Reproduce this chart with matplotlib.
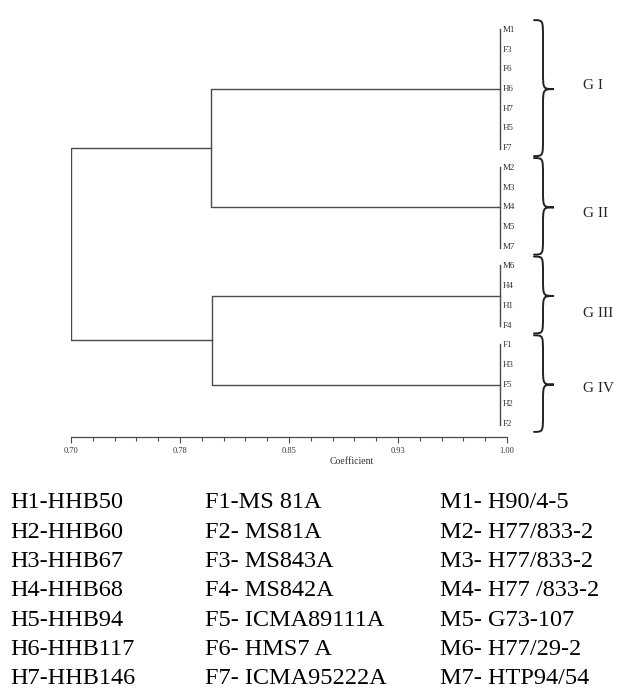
import matplotlib

matplotlib.use("Agg")
import matplotlib.pyplot as plt
from matplotlib.path import Path
from matplotlib.patches import PathPatch
import numpy as np

# leaves top to bottom, grouped
groups = [
    ["M1", "F3", "F6", "H6", "H7", "H5", "F7"],
    ["M2", "M3", "M4", "M5", "M7"],
    ["M6", "H4", "H1", "F4"],
    ["F1", "H3", "F5", "H2", "F2"],
]
group_names = ["G I", "G II", "G III", "G IV"]
group_join = [0.995, 0.995, 0.995, 0.995]   # within-group similarity
pair_join = [0.796, 0.797]                  # GI+GII, GIII+GIV
root_join = 0.700

tick_vals = [0.70, 0.775, 0.85, 0.925, 1.00]
tick_labels = ["0.70", "0.78", "0.85", "0.93", "1.00"]

key_h = ["H1-HHB50", "H2-HHB60", "H3-HHB67", "H4-HHB68", "H5-HHB94", "H6-HHB117", "H7-HHB146"]
key_f = ["F1-MS 81A", "F2- MS81A", "F3- MS843A", "F4- MS842A", "F5- ICMA89111A",
         "F6- HMS7 A", "F7- ICMA95222A"]
key_m = ["M1- H90/4-5", "M2- H77/833-2", "M3- H77/833-2", "M4- H77 /833-2", "M5- G73-107",
         "M6- H77/29-2", "M7- HTP94/54"]

SERIF = ["Liberation Serif", "DejaVu Serif"]
LC = "#4a4a4a"

W, H = 633, 688
fig = plt.figure(figsize=(W / 100, H / 100), dpi=100)
fig.patch.set_facecolor("white")

# axes: x 0.70 at px 71, 1.00 at px 507; leaf 0 at py 30, step 19.7
ppu = (507 - 71) / 0.30
xmax = 0.70 + (W - 71) / ppu
step = 19.7
ytop, ybot = 20, 437
ax = fig.add_axes([71 / W, (H - ybot) / H, (W - 71) / W, (ybot - ytop) / H])
ax.set_xlim(0.70, xmax)
ax.set_ylim((ybot - 30) / step, (ytop - 30) / step)
for s in ["top", "right", "left"]:
    ax.spines[s].set_visible(False)
ax.spines["bottom"].set_bounds(0.70, 1.00)
ax.spines["bottom"].set_color(LC)
ax.spines["bottom"].set_linewidth(0.9)
ax.patch.set_alpha(0)
ax.set_yticks([])
ax.set_xticks(tick_vals, tick_labels, fontsize=6, family=SERIF, color="#333")
ax.set_xticks(np.arange(0.70, 1.0001, 0.015), minor=True)
ax.tick_params(axis="x", which="major", length=4.5, width=0.8, color=LC, pad=3)
ax.tick_params(axis="x", which="minor", length=3, width=0.8, color=LC)
ax.set_xlabel("Coefficient", fontsize=7, family=SERIF, color="#333", labelpad=1)


def px2x(px):
    return 0.70 + (px - 71) / ppu


lw = 1.0
mids = []
idx = 0
for gi, leaves in enumerate(groups):
    ys = np.arange(idx, idx + len(leaves))
    h = group_join[gi]
    ax.plot([h, h], [ys[0] - 0.05, ys[-1] + 0.05], color=LC, lw=lw)
    for y, name in zip(ys, leaves):
        ax.annotate(name, (h, y), xytext=(2.5, 0), textcoords="offset points",
                    fontsize=6.5, family=SERIF, color="#333", va="center", ha="left")
    mids.append((ys[0] + ys[-1]) / 2)
    idx += len(leaves)

pair_mids = []
for pi in range(2):
    a, b = mids[2 * pi], mids[2 * pi + 1]
    h = pair_join[pi]
    ax.plot([group_join[2 * pi], h, h, group_join[2 * pi + 1]], [a, a, b, b], color=LC, lw=lw)
    pair_mids.append((a + b) / 2)
ax.plot([pair_join[0], root_join, root_join, pair_join[1]],
        [pair_mids[0], pair_mids[0], pair_mids[1], pair_mids[1]], color=LC, lw=lw)


def brace(x0, xs, xt, top, bot, mid):
    q = 0.9
    verts = [(x0, top), (xs, top), (xs, top), (xs, top + q),
             (xs, mid - q),
             (xs, mid), (xs, mid), (xt, mid),
             (xs, mid), (xs, mid), (xs, mid + q),
             (xs, bot - q),
             (xs, bot), (xs, bot), (x0, bot)]
    codes = [Path.MOVETO, Path.CURVE4, Path.CURVE4, Path.CURVE4,
             Path.LINETO,
             Path.CURVE4, Path.CURVE4, Path.CURVE4,
             Path.CURVE4, Path.CURVE4, Path.CURVE4,
             Path.LINETO,
             Path.CURVE4, Path.CURVE4, Path.CURVE4]
    ax.add_patch(PathPatch(Path(verts, codes), fill=False, lw=1.4,
                           edgecolor="#222", clip_on=False, capstyle="round"))


label_shift = [-0.2, 0.3, 0.9, 0.2]
idx = 0
for gi, leaves in enumerate(groups):
    top, bot = idx - 0.5, idx + len(leaves) - 0.6
    brace(px2x(534), px2x(543), px2x(554), top, bot, mids[gi])
    ax.text(px2x(583), mids[gi] + label_shift[gi], group_names[gi], fontsize=11,
            family=SERIF, color="#222", va="center", ha="left")
    idx += len(leaves)

# key below the dendrogram
col_x = [10, 205, 440]
for r in range(7):
    yy = 503 + r * 29.3
    for cx, col in zip(col_x, [key_h, key_f, key_m]):
        fig.text(cx / W, 1 - yy / H, col[r], fontsize=17.5, family=SERIF,
                 color="black", va="center", ha="left")

fig.savefig("out.png", dpi=100)
